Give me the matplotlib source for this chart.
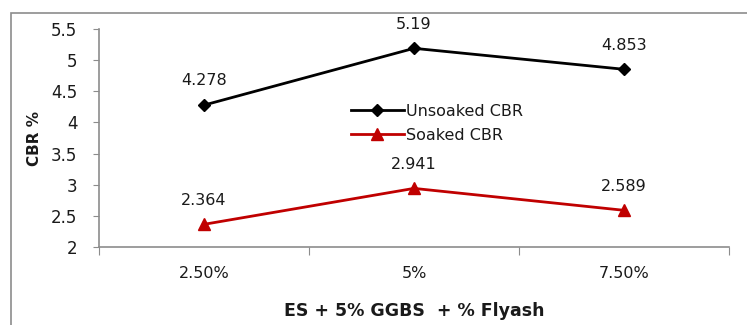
import matplotlib
matplotlib.use("Agg")
import matplotlib.pyplot as plt
from matplotlib.patches import Rectangle

categories = ["2.50%", "5%", "7.50%"]
unsoaked = [4.278, 5.19, 4.853]
soaked = [2.364, 2.941, 2.589]
y_ticks = [2, 2.5, 3, 3.5, 4, 4.5, 5, 5.5]
y_tick_labels = ["2", "2.5", "3", "3.5", "4", "4.5", "5", "5.5"]

W, H = 747, 325
fig = plt.figure(figsize=(W / 100, H / 100), dpi=100)
fig.patch.set_facecolor("white")
text_color = "#1a1a1a"

# chart frame
fig.add_artist(Rectangle((11 / W, -0.1), 1.0, (H - 13) / H + 0.1,
                         transform=fig.transFigure, fill=False,
                         edgecolor="#8c8c8c", linewidth=1.2))

left, right = 99 / W, 729 / W
bottom, top = 1 - 247 / H, 1 - 29 / H
ax = fig.add_axes([left, bottom, right - left, top - bottom])

x = list(range(len(categories)))
ax.plot(x, unsoaked, color="black", linewidth=2, marker="D", markersize=6,
        label="Unsoaked CBR")
ax.plot(x, soaked, color="#c00000", linewidth=2, marker="^", markersize=8,
        label="Soaked CBR")

for series in (unsoaked, soaked):
    for xi, v in zip(x, series):
        ax.annotate(f"{v:g}", (xi, v), xytext=(0, 12), textcoords="offset points",
                    ha="center", va="bottom", fontsize=11.5, color=text_color)

ax.set_xlim(-0.5, 2.5)
ax.set_ylim(2, 5.5)
ax.set_yticks(y_ticks)
ax.set_yticklabels(y_tick_labels, fontsize=12, color=text_color)
ax.set_xticks([-0.5, 0.5, 1.5, 2.5])
ax.set_xticklabels([])
ax.set_xticks(x, minor=True)
ax.set_xticklabels(categories, minor=True, fontsize=11.5, color=text_color)
ax.tick_params(axis="x", which="minor", length=0, pad=14)
ax.tick_params(axis="x", which="major", length=6, color="#8c8c8c", direction="out")
ax.tick_params(axis="y", length=4.5, color="#8c8c8c", direction="out", pad=11)

for s in ("top", "right"):
    ax.spines[s].set_visible(False)
for s in ("left", "bottom"):
    ax.spines[s].set_color("#8c8c8c")
    ax.spines[s].set_linewidth(1.2)

ax.set_ylabel("CBR %", fontsize=11, fontweight="bold", color=text_color)
ax.yaxis.set_label_coords(-0.091, 0.5)
ax.set_xlabel("ES + 5% GGBS  + % Flyash", fontsize=12.5, fontweight="bold",
              labelpad=15, color=text_color)

ax.legend(loc="upper left", bbox_to_anchor=(0.39, 0.685), frameon=False,
          fontsize=11.5, handlelength=3.3, handletextpad=0.15, labelspacing=0.55,
          borderaxespad=0, labelcolor=text_color)

fig.savefig("out.png", dpi=100)
